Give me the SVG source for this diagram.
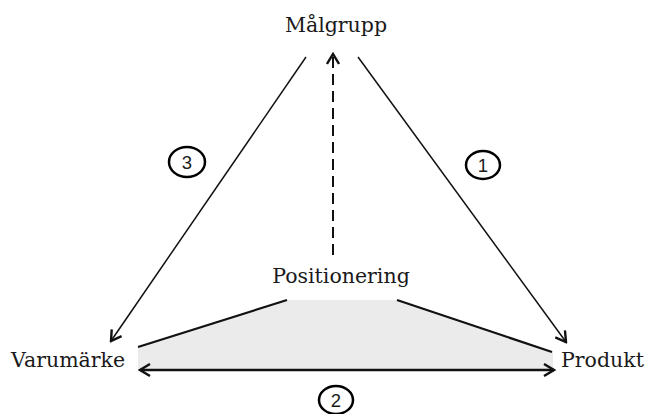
<svg xmlns="http://www.w3.org/2000/svg" width="650" height="414" viewBox="0 0 650 414">
<style>
.lbl{font-family:"DejaVu Serif","Liberation Serif",serif;font-size:20.5px;fill:#1a1a1a;}
.num{font-family:"Liberation Sans","DejaVu Sans",sans-serif;font-size:18.5px;fill:#1a1a1a;text-anchor:middle;}
.ln{stroke:#111;fill:none;}
.circ{fill:#fff;stroke:#000;stroke-width:2.5;}
</style>
<defs>
<marker id="open" viewBox="0 0 14 14" refX="12" refY="7" markerWidth="14" markerHeight="14" markerUnits="userSpaceOnUse" orient="auto-start-reverse">
<path d="M2,1 L12,7 L2,13" fill="none" stroke="#111" stroke-width="2.4"/>
</marker>
</defs>
<rect width="650" height="414" fill="#fff"/>
<g id="positionering-area">
<polygon points="138,347 287,300 397,300 553,352 553,370 138,370" fill="#ebebeb"/>
<line class="ln" x1="138" y1="347" x2="287" y2="300" stroke-width="2.2"/>
<line class="ln" x1="397" y1="300" x2="552" y2="352" stroke-width="2.2"/>
</g>
<g id="connectors">
<line class="ln" x1="306" y1="57" x2="111" y2="341" stroke-width="1.5" marker-end="url(#open)"/>
<line class="ln" x1="358" y1="57" x2="566" y2="342" stroke-width="1.5" marker-end="url(#open)"/>
<line class="ln" x1="333" y1="255" x2="333" y2="54" stroke-width="2" stroke-dasharray="11,6" marker-end="url(#open)"/>
<line class="ln" x1="140" y1="370" x2="554" y2="370" stroke-width="2.6" marker-start="url(#open)" marker-end="url(#open)"/>
</g>
<g id="malgrupp"><text class="lbl" x="336" y="32" text-anchor="middle">Målgrupp</text></g>
<g id="positionering"><text class="lbl" x="341" y="283" text-anchor="middle">Positionering</text></g>
<g id="varumarke"><text class="lbl" x="11" y="367">Varumärke</text></g>
<g id="produkt"><text class="lbl" x="561" y="367">Produkt</text></g>
<g id="badge1"><ellipse class="circ" cx="483" cy="165" rx="17" ry="14"/><text class="num" x="483" y="171.5">1</text></g>
<g id="badge2"><ellipse class="circ" cx="336" cy="400" rx="17" ry="14"/><text class="num" x="336" y="406.5">2</text></g>
<g id="badge3"><ellipse class="circ" cx="187" cy="162" rx="18" ry="15"/><text class="num" x="187" y="168.5">3</text></g>
</svg>
